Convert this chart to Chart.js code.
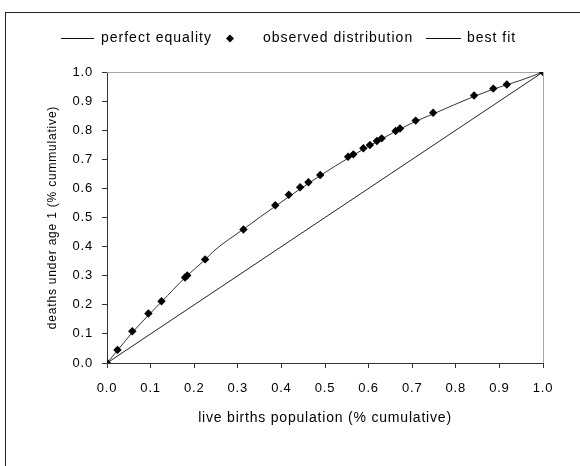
<!DOCTYPE html>
<html>
<head>
<meta charset="utf-8">
<script src="https://cdn.jsdelivr.net/npm/chart.js@4/dist/chart.umd.min.js"></script>
<style>
  html, body { margin: 0; padding: 0; background: #fff; }
  #wrap { width: 580px; height: 466px; }
</style>
</head>
<body>
<div id="wrap"><canvas id="c" width="580" height="466"></canvas></div>
<script>
// ---- data ----
const seriesLabels = ['perfect equality', 'observed distribution', 'best fit'];
const xTitle = 'live births population (% cumulative)';
const yTitle = 'deaths under age 1 (% cummulative)';

const equalityX = [0, 1];
const equalityY = [0, 1];

const observedX = [0, 0.024, 0.058, 0.095, 0.125, 0.179, 0.184, 0.225, 0.313, 0.386, 0.417, 0.443, 0.462, 0.489,
                   0.553, 0.565, 0.588, 0.603, 0.619, 0.630, 0.662, 0.672, 0.708, 0.748, 0.842, 0.886, 0.917, 1.0];
const observedY = [0, 0.045, 0.109, 0.170, 0.212, 0.294, 0.301, 0.356, 0.459, 0.542, 0.578, 0.604, 0.621, 0.646,
                   0.709, 0.717, 0.738, 0.749, 0.763, 0.772, 0.797, 0.806, 0.833, 0.860, 0.919, 0.943, 0.957, 1.0];

const fitX = [0, 0.025, 0.06, 0.1, 0.125, 0.18, 0.225, 0.245, 0.313, 0.39, 0.49, 0.56, 0.63, 0.70, 0.75, 0.84, 0.9, 0.95, 1.0];
const fitY = [0, 0.045, 0.108, 0.172, 0.21, 0.295, 0.355, 0.385, 0.46, 0.543, 0.645, 0.71, 0.77, 0.825, 0.857, 0.915, 0.948, 0.972, 1.0];

const axisMin = 0, axisMax = 1, axisStep = 0.1;

// ---- build ----
const pts = (xs, ys) => xs.map((x, i) => ({ x: x, y: ys[i] }));
const FONT = "'Liberation Sans', Arial, sans-serif";
Chart.defaults.font.family = FONT;
Chart.defaults.color = '#000';

const frameAndLegend = {
  id: 'frameAndLegend',
  beforeDraw(chart) {
    const ctx = chart.ctx;
    ctx.letterSpacing = '0.8px';
    ctx.save();
    ctx.strokeStyle = '#222';
    ctx.lineWidth = 1;
    ctx.strokeRect(5.5, 12.5, 700, 600);
    ctx.restore();
  },
  beforeDatasetsDraw(chart) {
    const ctx = chart.ctx, a = chart.chartArea;
    ctx.save();
    ctx.strokeStyle = '#a6a6a6';
    ctx.lineWidth = 1;
    const t = Math.round(a.top) + 0.5, r = Math.round(a.right) + 0.5;
    ctx.beginPath();
    ctx.moveTo(a.left, t); ctx.lineTo(r, t); ctx.lineTo(r, a.bottom);
    ctx.stroke();
    ctx.restore();
  },
  afterDraw(chart) {
    const ctx = chart.ctx;
    ctx.save();
    ctx.letterSpacing = '1px';
    ctx.font = "14px " + FONT;
    ctx.fillStyle = '#000';
    ctx.textBaseline = 'middle';
    const ly = 38.5;
    const ds = chart.data.datasets;
    // item 1: line sample
    ctx.strokeStyle = '#111'; ctx.lineWidth = 1;
    ctx.beginPath(); ctx.moveTo(61, ly); ctx.lineTo(94, ly); ctx.stroke();
    ctx.fillText(ds[0].label, 101, ly);
    // item 2: diamond
    ctx.beginPath();
    ctx.moveTo(230, ly - 4); ctx.lineTo(234, ly); ctx.lineTo(230, ly + 4); ctx.lineTo(226, ly);
    ctx.closePath(); ctx.fill();
    ctx.fillText(ds[1].label, 263, ly);
    // item 3: line sample
    ctx.beginPath(); ctx.moveTo(426, ly); ctx.lineTo(461, ly); ctx.stroke();
    ctx.fillText(ds[2].label, 467, ly);
    ctx.restore();
  }
};

const tickFmt = v => Number(v).toFixed(1);

new Chart(document.getElementById('c'), {
  type: 'scatter',
  data: {
    datasets: [
      { label: seriesLabels[0], data: pts(equalityX, equalityY), showLine: true,
        borderColor: '#222', borderWidth: 1, pointRadius: 0, order: 3 },
      { label: seriesLabels[1], data: pts(observedX, observedY), showLine: false,
        pointStyle: 'rectRot', pointRadius: 4.2, backgroundColor: '#000', borderColor: '#000', borderWidth: 0, order: 1 },
      { label: seriesLabels[2], data: pts(fitX, fitY), showLine: true,
        borderColor: '#333', borderWidth: 1, pointRadius: 0, cubicInterpolationMode: 'monotone', order: 2 }
    ]
  },
  options: {
    responsive: false,
    animation: false,
    devicePixelRatio: 1,
    layout: { padding: { top: 72, right: 37, left: 0, bottom: 0 } },
    plugins: { legend: { display: false }, tooltip: { enabled: false } },
    scales: {
      x: {
        type: 'linear', min: axisMin, max: axisMax,
        ticks: { stepSize: axisStep, callback: tickFmt, padding: 13, font: { size: 13 }, color: '#000', maxRotation: 0 },
        grid: { drawOnChartArea: false, drawTicks: true, tickLength: 5, color: '#333' },
        border: { display: true, color: '#333', width: 1 },
        title: { display: true, text: xTitle, font: { size: 14 }, color: '#000', padding: { top: 0, bottom: 39 } },
        afterFit(s) { s.height = 103; s.paddingLeft = 0; s.paddingRight = 0; }
      },
      y: {
        type: 'linear', min: axisMin, max: axisMax,
        ticks: { stepSize: axisStep, callback: tickFmt, padding: 9, font: { size: 13 }, color: '#000' },
        grid: { drawOnChartArea: false, drawTicks: true, tickLength: 5, color: '#333' },
        border: { display: true, color: '#333', width: 1 },
        title: { display: true, text: yTitle, font: { size: 12 }, color: '#000', padding: { top: 45, bottom: 0 } },
        afterFit(s) { s.width = 107; s.paddingTop = 0; s.paddingBottom = 0; }
      }
    }
  },
  plugins: [frameAndLegend]
});
</script>
</body>
</html>
